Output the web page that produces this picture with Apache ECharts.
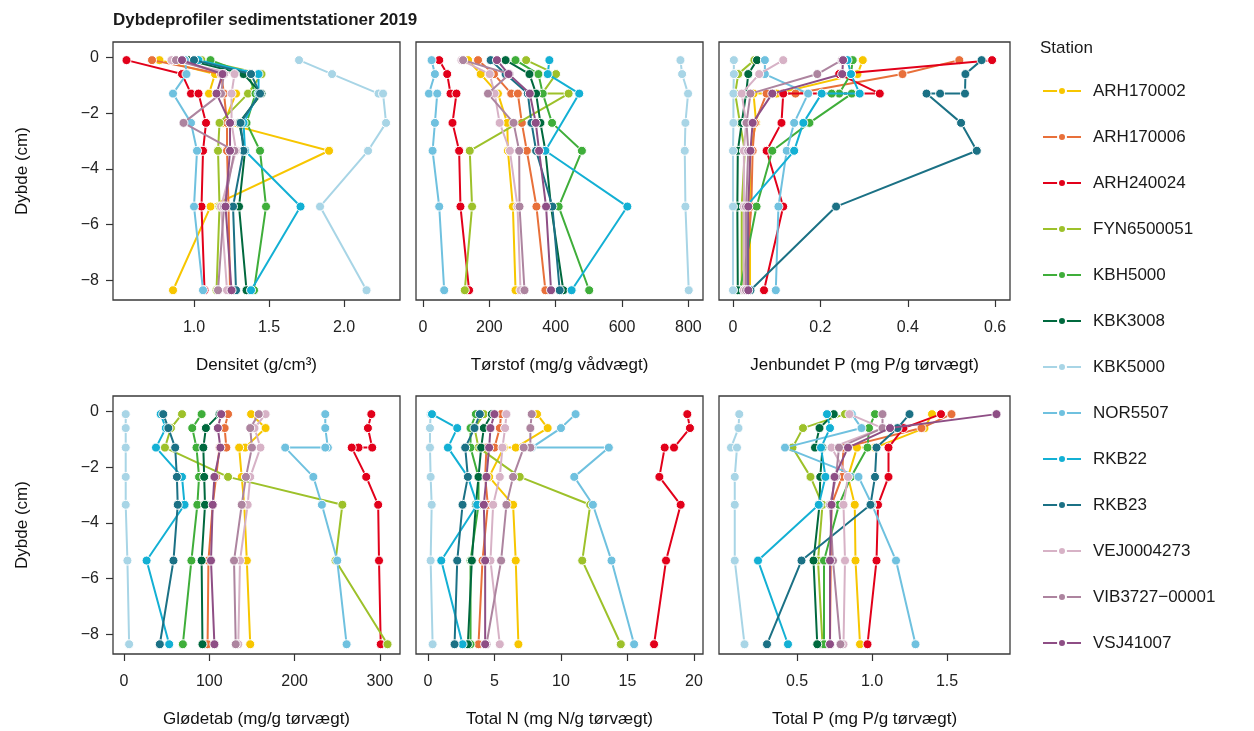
<!DOCTYPE html>
<html>
<head>
<meta charset="utf-8">
<script src="https://cdn.jsdelivr.net/npm/echarts@6/dist/echarts.min.js"></script>
<style>
html,body{margin:0;padding:0;background:#fff;}
#chart{width:1254px;height:731px;}
</style>
</head>
<body>
<div id="chart"></div>
<script>
// ---------------- DATA ----------------
const stations = ['ARH170002','ARH170006','ARH240024','FYN6500051','KBH5000','KBK3008','KBK5000','NOR5507','RKB22','RKB23','VEJ0004273','VIB3727\u221200001','VSJ41007'];
// sample depths (cm); three slots at about -1.3 hold repeated measurements
const depths = [-0.1, -0.6, -1.3, -1.3, -1.3, -2.35, -3.35, -5.35, -8.35];

// one row per station (same order as stations), one column per depth slot
const densitet = [
  [0.77,1.14,1.10,1.28,null,1.20,1.90,1.11,0.86],
  [0.72,1.18,1.20,null,null,1.22,1.22,1.23,1.24],
  [0.55,0.92,0.98,1.03,null,1.08,1.06,1.05,1.07],
  [1.05,1.45,1.36,null,null,1.17,1.16,1.17,1.15],
  [1.11,1.36,1.41,null,null,1.35,1.44,1.48,1.40],
  [0.96,1.33,1.45,null,null,1.30,1.34,1.30,1.35],
  [1.70,1.92,2.23,2.26,null,2.28,2.16,1.84,2.15],
  [0.94,0.95,0.86,null,null,0.98,1.02,1.00,1.06],
  [1.03,1.43,1.43,null,null,1.33,1.34,1.71,1.38],
  [1.00,1.38,1.44,null,null,1.31,1.33,1.26,1.28],
  [0.85,1.27,1.25,null,null,1.25,1.28,1.18,1.22],
  [0.88,1.20,1.18,null,null,0.93,1.27,1.20,1.16],
  [0.92,1.19,1.15,null,null,1.24,1.24,1.21,1.25]
];
const torstof = [
  [136,174,226,null,null,254,256,271,279],
  [166,214,266,286,null,298,313,342,369],
  [49,73,83,101,null,89,109,113,139],
  [311,401,359,439,null,null,141,148,126],
  [279,348,361,null,null,389,479,409,501],
  [249,321,341,null,null,354,369,386,423],
  [776,781,799,null,null,791,789,791,801],
  [26,36,18,43,null,36,29,49,64],
  [381,376,471,null,null,null,369,616,448],
  [204,249,316,null,null,327,341,390,412],
  [116,201,216,null,null,231,262,285,294],
  [121,261,196,null,null,273,290,291,306],
  [223,258,322,null,null,340,350,371,386]
];
const jenbundetP = [
  [0.297,0.285,0.100,0.047,null,0.053,0.039,0.039,0.039],
  [0.518,0.388,0.143,0.077,null,0.050,0.045,0.042,0.027],
  [0.593,0.243,0.336,0.115,null,0.111,0.077,0.115,0.071],
  [0.049,0.012,0.005,null,null,0.016,0.027,0.020,0.020],
  [0.274,0.270,0.243,0.226,0.272,0.175,0.090,0.054,0.016],
  [0.055,0.035,0.030,null,null,0.020,0.011,0.010,0.011],
  [0.002,0.002,0.001,null,null,0.001,0.000,0.000,0.000],
  [0.073,0.073,0.172,null,null,0.140,0.123,0.104,0.098],
  [0.262,0.270,0.290,0.203,null,0.161,0.140,0.030,0.035],
  [0.569,0.532,0.531,0.474,0.443,0.522,0.558,0.236,0.040],
  [0.115,0.060,0.020,null,null,0.030,0.025,0.025,0.025],
  [0.249,0.193,0.040,null,null,0.031,0.035,0.030,0.030],
  [0.252,0.250,0.090,null,null,0.045,0.040,0.035,0.035]
];
const glodetab = [
  [149,166,142,135,null,138,141,144,148],
  [122,118,120,112,null,108,104,99,98],
  [290,286,291,275,267,284,298,299,301],
  [68,55,48,null,null,122,256,248,309],
  [91,80,85,null,null,88,86,79,69],
  [112,96,93,null,null,94,95,91,92],
  [2,2,2,null,null,2,2,4,6],
  [236,236,239,236,189,222,232,250,261],
  [43,49,37.5,null,null,68,71,26.5,53],
  [46,52,60,null,null,62,63,58,42],
  [166,153,160,null,null,148,145,136,134],
  [158,148,150,null,null,143,138,129,131],
  [114,110,113,null,null,106,104,102,106]
];
const totalN = [
  [8.2,9.0,6.6,5.7,null,4.6,6.4,6.6,6.8],
  [5.5,5.4,5.0,4.4,null,4.3,4.5,4.1,3.8],
  [19.5,19.7,18.5,17.8,null,17.4,19.0,17.9,17.0],
  [4.2,3.5,3.8,null,null,6.9,12.2,11.6,14.5],
  [3.6,3.2,3.2,null,null,3.8,3.8,3.2,3.2],
  [4.8,4.2,4.0,null,null,3.8,3.6,3.3,3.0],
  [0.2,0.15,0.15,null,null,0.2,0.28,0.2,0.35],
  [11.1,10.0,7.8,13.6,null,11.0,12.4,13.8,15.5],
  [0.3,2.2,1.5,null,null,3.0,3.7,1.0,2.6],
  [3.9,3.5,2.8,null,null,3.0,2.6,2.2,2.0],
  [5.9,5.8,5.6,null,null,5.4,4.9,4.7,5.4],
  [7.8,7.7,7.7,7.2,null,6.4,5.9,5.5,4.4],
  [5.0,4.7,4.6,null,null,4.4,4.2,4.3,4.3]
];
const totalP = [
  [1.40,1.35,1.02,0.90,null,0.84,0.885,0.89,0.92],
  [1.53,1.33,0.81,null,null,0.80,0.73,0.725,0.72],
  [1.46,1.21,1.11,null,null,1.11,1.04,1.03,0.97],
  [0.82,0.54,0.47,null,null,0.59,0.67,0.64,0.67],
  [1.02,0.98,0.97,null,null,0.86,0.78,0.68,0.68],
  [0.745,0.65,0.62,0.67,null,0.655,0.65,0.61,0.635],
  [0.115,0.11,0.06,0.10,null,0.085,0.085,0.085,0.15],
  [0.865,0.93,0.42,null,null,0.91,1.0,1.16,1.29],
  [0.70,0.72,0.66,null,null,0.69,0.645,0.24,0.44],
  [1.25,1.17,1.03,null,null,1.02,0.99,0.53,0.30],
  [0.85,1.07,0.73,null,null,0.84,0.81,0.82,0.81],
  [1.07,1.07,0.78,null,null,0.76,0.72,0.74,0.79],
  [1.83,1.12,0.84,null,null,0.75,0.73,0.72,0.72]
];

const depthTicks = [0,-2,-4,-6,-8];
const xTicks = [[1.0,1.5,2.0],[0,200,400,600,800],[0,0.2,0.4,0.6],[0,100,200,300],[0,5,10,15,20],[0.5,1.0,1.5]];
const xNames = ['Densitet (g/cm\u00b3)','T\u00f8rstof (mg/g v\u00e5dv\u00e6gt)','Jenbundet P (mg P/g t\u00f8rv\u00e6gt)','Gl\u00f8detab (mg/g t\u00f8rv\u00e6gt)','Total N (mg N/g t\u00f8rv\u00e6gt)','Total P (mg P/g t\u00f8rv\u00e6gt)'];

// ---------------- STYLE / LAYOUT ----------------
const colors = ['#F7C600','#E8703A','#E2001A','#9DC12A','#3FAE3A','#00693E','#A8D5E6','#6FC1DF','#13B0D4','#1B7185','#D7B2C6','#AD849F','#8E4E85'];
const panelData = [densitet, torstof, jenbundetP, glodetab, totalN, totalP];
const xRange = [[0.46,2.373],[-21,844],[-0.032,0.634],[-12.9,323.6],[-0.9,20.68],[-0.02,1.92]];
const xFmt = [v=>v.toFixed(1), v=>String(v), v=>v===0?'0':v.toFixed(1), v=>String(v), v=>String(v), v=>v.toFixed(1)];
const colLeft = [113,416,719], colW = [287,287,291], rowTop = [42,396], rowH = 258;
const FONT = '"Liberation Sans", Arial, sans-serif';

const grids=[], xAxes=[], yAxes=[], series=[];
for (let p=0;p<6;p++){
  const r = Math.floor(p/3), c = p%3;
  grids.push({left:colLeft[c], top:rowTop[r], width:colW[c], height:rowH, show:true, borderColor:'#3a3a3a', borderWidth:1.3, backgroundColor:'rgba(0,0,0,0)'});
  xAxes.push({
    gridIndex:p, type:'value', min:xRange[p][0], max:xRange[p][1], position:'bottom',
    axisLine:{show:false, onZero:false}, splitLine:{show:false},
    axisTick:{show:true, customValues:xTicks[p], length:7, lineStyle:{color:'#333',width:1.2}},
    axisLabel:{customValues:xTicks[p], formatter:xFmt[p], margin:20, fontSize:16, color:'#222', fontFamily:FONT},
    name:xNames[p], nameLocation:'middle', nameGap:57,
    nameTextStyle:{fontSize:17, color:'#111', fontFamily:FONT}
  });
  const left = c===0;
  yAxes.push({
    gridIndex:p, type:'value', min:-8.7, max:0.55, position:'left',
    axisLine:{show:false, onZero:false}, splitLine:{show:false},
    axisTick:{show:left, customValues:depthTicks, length:7, lineStyle:{color:'#333',width:1.2}},
    axisLabel:{show:left, customValues:depthTicks, formatter:v=>v===0?'0':'\u2212'+Math.abs(v), margin:14, fontSize:16, color:'#222', fontFamily:FONT},
    name:left?'Dybde (cm)':'', nameLocation:'middle', nameGap:82, nameRotate:90,
    nameTextStyle:{fontSize:17, color:'#111', fontFamily:FONT}
  });
  stations.forEach((st,i)=>{
    const pts=[];
    panelData[p][i].forEach((v,k)=>{ if(v!==null) pts.push([v, depths[k]]); });
    series.push({
      type:'line', name:st, xAxisIndex:p, yAxisIndex:p, data:pts,
      symbol:'circle', symbolSize:9, showSymbol:true,
      lineStyle:{color:colors[i], width:2},
      itemStyle:{color:colors[i], borderColor:'#fff', borderWidth:1},
      emphasis:{disabled:true}, animation:false, z:2+i
    });
  });
}

const chart = echarts.init(document.getElementById('chart'), null, {renderer:'canvas'});
chart.setOption({
  animation:false,
  backgroundColor:'#fff',
  color:colors,
  title:{text:'Dybdeprofiler sedimentstationer 2019', left:108, top:7,
    textStyle:{fontSize:17, fontWeight:'bold', color:'#1a1a1a', fontFamily:FONT}},
  graphic:[{type:'text', left:1040, top:40, style:{text:'Station', fontSize:17, fill:'#1a1a1a', font:'17px '+FONT}}],
  legend:{
    data:stations, orient:'vertical', left:1037, top:76,
    itemWidth:38, itemHeight:10, itemGap:26,
    textStyle:{fontSize:17, color:'#1a1a1a', fontFamily:FONT, lineHeight:20, padding:[0,0,0,7]},
    selectedMode:false
  },
  grid:grids, xAxis:xAxes, yAxis:yAxes, series:series
});
</script>
</body>
</html>
